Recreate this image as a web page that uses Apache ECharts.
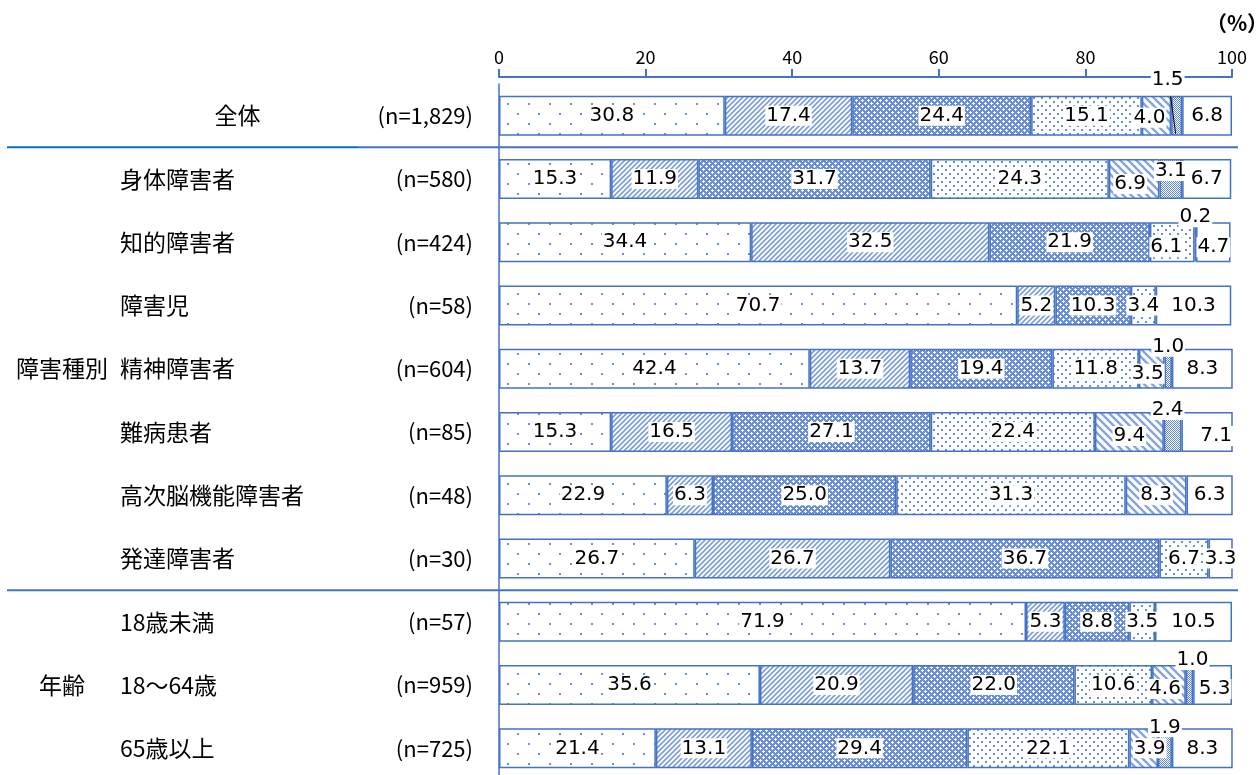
<!DOCTYPE html>
<html>
<head>
<meta charset="utf-8">
<script src="https://cdn.jsdelivr.net/npm/echarts@6/dist/echarts.min.js"></script>
<style>
  html, body { margin: 0; padding: 0; background: #fff; }
  #chart { width: 1260px; height: 775px; }
</style>
</head>
<body>
<div id="chart"></div>
<script>
// 行ラベル
const categories = ['全体', '身体障害者', '知的障害者', '障害児', '精神障害者', '難病患者',
  '高次脳機能障害者', '発達障害者', '18歳未満', '18～64歳', '65歳以上'];
const sampleSizes = ['(n=1,829)', '(n=580)', '(n=424)', '(n=58)', '(n=604)', '(n=85)',
  '(n=48)', '(n=30)', '(n=57)', '(n=959)', '(n=725)'];
const groupNames = ['障害種別', '年齢'];
const groupRows = ['精神障害者', '18～64歳'];

// 回答の割合 (%) 左から順に
const s1 = [30.8, 15.3, 34.4, 70.7, 42.4, 15.3, 22.9, 26.7, 71.9, 35.6, 21.4];
const s2 = [17.4, 11.9, 32.5, 5.2, 13.7, 16.5, 6.3, 26.7, 5.3, 20.9, 13.1];
const s3 = [24.4, 31.7, 21.9, 10.3, 19.4, 27.1, 25.0, 36.7, 8.8, 22.0, 29.4];
const s4 = [15.1, 24.3, 6.1, 3.4, 11.8, 22.4, 31.3, 6.7, 3.5, 10.6, 22.1];
const s5 = [4.0, 6.9, 0, 0, 3.5, 9.4, 8.3, 0, 0, 4.6, 3.9];
const s6 = [1.5, 3.1, 0.2, 0, 1.0, 2.4, 0, 0, 0, 1.0, 1.9];
const s7 = [6.8, 6.7, 4.7, 10.3, 8.3, 7.1, 6.3, 3.3, 10.5, 5.3, 8.3];

const xTicks = [0, 20, 40, 60, 80, 100];

const BLUE = '#4472C4';
const FONT = '"Noto Sans CJK JP", "Noto Sans", sans-serif';
const NUM_FONT = '"DejaVu Sans", sans-serif';

// 塗りつぶしパターン
function pattern(w, h, draw) {
  const c = document.createElement('canvas');
  c.width = w; c.height = h;
  const ctx = c.getContext('2d');
  ctx.fillStyle = '#fff';
  ctx.fillRect(0, 0, w, h);
  draw(ctx, w, h);
  return { image: c, repeat: 'repeat' };
}

const fills = [
  pattern(21, 20, ctx => {            // まばらな点
    ctx.fillStyle = '#6a8fd6';
    ctx.fillRect(3, 3, 2, 2);
    ctx.fillRect(13, 13, 2, 2);
  }),
  pattern(5, 5, ctx => {              // 斜線 /
    ctx.strokeStyle = '#7b9ce0';
    ctx.lineWidth = 1.6;
    ctx.beginPath();
    ctx.moveTo(-1, 6); ctx.lineTo(6, -1);
    ctx.moveTo(-1, 1); ctx.lineTo(1, -1);
    ctx.moveTo(4, 6); ctx.lineTo(6, 4);
    ctx.stroke();
  }),
  pattern(6, 6, ctx => {              // 格子
    ctx.fillStyle = '#6b8fd6';
    ctx.fillRect(0, 0, 6, 6);
    ctx.fillStyle = '#fff';
    [[1, 1], [4, 4]].forEach(([x, y]) => {
      ctx.fillRect(x, y, 1, 1);
      ctx.fillRect(x - 1, y, 1, 1); ctx.fillRect(x + 1, y, 1, 1);
      ctx.fillRect(x, y - 1, 1, 1); ctx.fillRect(x, y + 1, 1, 1);
    });
  }),
  pattern(8, 8, ctx => {              // 細かい点
    ctx.fillStyle = '#6a8fd6';
    ctx.fillRect(1, 1, 2, 2);
    ctx.fillRect(5, 5, 2, 2);
  }),
  pattern(8, 8, ctx => {              // 斜線 \
    ctx.strokeStyle = '#86a4e0';
    ctx.lineWidth = 2.4;
    ctx.beginPath();
    ctx.moveTo(-1, -1); ctx.lineTo(9, 9);
    ctx.moveTo(-1, 7); ctx.lineTo(1, 9);
    ctx.moveTo(7, -1); ctx.lineTo(9, 1);
    ctx.stroke();
  }),
  pattern(2, 2, ctx => {              // 網目
    ctx.fillStyle = '#5f87d3';
    ctx.fillRect(0, 0, 1, 1);
    ctx.fillRect(1, 1, 1, 1);
  }),
  '#ffffff'
];

// ラベル位置の微調整 "行,系列": [dx, dy]
const labelShift = {
  '0,4': [-7, 2], '0,5': [-9, -36],
  '1,4': [-4, 5], '1,5': [0, -8],
  '2,3': [-6, 5], '2,5': [0, -25], '2,6': [0, 5],
  '4,4': [-4, 5], '4,5': [0, -22],
  '5,4': [0, 4], '5,5': [-5, -22], '5,6': [9, 4],
  '9,4': [-4, 4], '9,5': [3, -25], '9,6': [2, 4],
  '10,4': [6, 0], '10,5': [0, -21]
};

const seriesData = [s1, s2, s3, s4, s5, s6, s7];

const chart = echarts.init(document.getElementById('chart'));

const option = {
  animation: false,
  backgroundColor: '#fff',
  grid: { left: 499, top: 84, width: 733, height: 696, outerBoundsMode: 'none' },
  xAxis: {
    type: 'value',
    position: 'top',
    offset: 7,
    min: xTicks[0],
    max: xTicks[xTicks.length - 1],
    interval: xTicks[1] - xTicks[0],
    axisLine: { show: true, lineStyle: { color: BLUE, width: 2 } },
    axisTick: { show: true, length: 8, lineStyle: { color: BLUE, width: 2 } },
    axisLabel: { color: '#000', fontSize: 18, fontFamily: FONT, margin: 11 },
    splitLine: { show: false }
  },
  yAxis: {
    type: 'category',
    inverse: true,
    data: categories,
    axisLine: { show: true, lineStyle: { color: BLUE, width: 1.5 } },
    axisTick: { show: false },
    axisLabel: {
      margin: 26,
      formatter: (v, i) => (i === 0 ? '{top|' : '{name|') + v + '}{n|' + sampleSizes[i] + '}',
      rich: {
        name: { width: 235, align: 'left', fontSize: 23, color: '#000', fontFamily: FONT },
        top: { width: 235, align: 'center', fontSize: 23, color: '#000', fontFamily: FONT },
        n: { width: 118, align: 'right', fontSize: 22, color: '#000', fontFamily: FONT }
      }
    },
    splitLine: { show: false }
  },
  series: seriesData.map((arr, si) => ({
    type: 'bar',
    stack: 'total',
    barWidth: 40,
    emphasis: { disabled: true },
    itemStyle: { color: fills[si], borderColor: BLUE, borderWidth: 1.5 },
    label: {
      show: true,
      position: 'inside',
      color: '#000',
      fontSize: 20,
      fontFamily: NUM_FONT,
      backgroundColor: '#fff',
      padding: [0, 1],
      formatter: p => p.value.toFixed(1)
    },
    data: arr.map((v, ri) => {
      const item = { value: v };
      if (v === 0) {
        item.label = { show: false };
        item.itemStyle = { borderWidth: 0 };
      }
      const off = labelShift[ri + ',' + si];
      if (off) item.label = { offset: off };
      return item;
    })
  }))
};

chart.setOption(option);

// 区切り線・グループ名・単位
const rowY = name => chart.convertToPixel({ yAxisIndex: 0 }, name);
const sep1 = (rowY(categories[0]) + rowY(categories[1])) / 2;
const sep2 = (rowY(categories[7]) + rowY(categories[8])) / 2;
const lead = chart.convertToPixel({ gridIndex: 0 }, [s1[0] + s2[0] + s3[0] + s4[0] + s5[0] + s6[0] / 2, categories[0]]);

chart.setOption({
  graphic: [
    { type: 'line', shape: { x1: 7, y1: sep1, x2: 358, y2: sep1 }, style: { stroke: '#0070C0', lineWidth: 2 } },
    { type: 'line', shape: { x1: 358, y1: sep1, x2: 1238, y2: sep1 }, style: { stroke: BLUE, lineWidth: 2 } },
    { type: 'line', shape: { x1: 7, y1: sep2, x2: 1238, y2: sep2 }, style: { stroke: BLUE, lineWidth: 2 } },
    { type: 'line', z: 100, shape: { x1: lead[0] - 6, y1: lead[1] - 19, x2: lead[0] - 1, y2: lead[1] + 18 }, style: { stroke: '#000', lineWidth: 1 } },
    ...groupNames.map((g, i) => ({
      type: 'text', x: 62, y: rowY(groupRows[i]),
      style: { text: g, fill: '#000', fontSize: 23, fontFamily: FONT, align: 'center', verticalAlign: 'middle' }
    })),
    { type: 'text', x: 1237, y: 23,
      style: { text: '（%）', fill: '#000', fontSize: 21, fontWeight: 'bold', fontFamily: FONT, align: 'center', verticalAlign: 'middle' } }
  ]
});
</script>
</body>
</html>
